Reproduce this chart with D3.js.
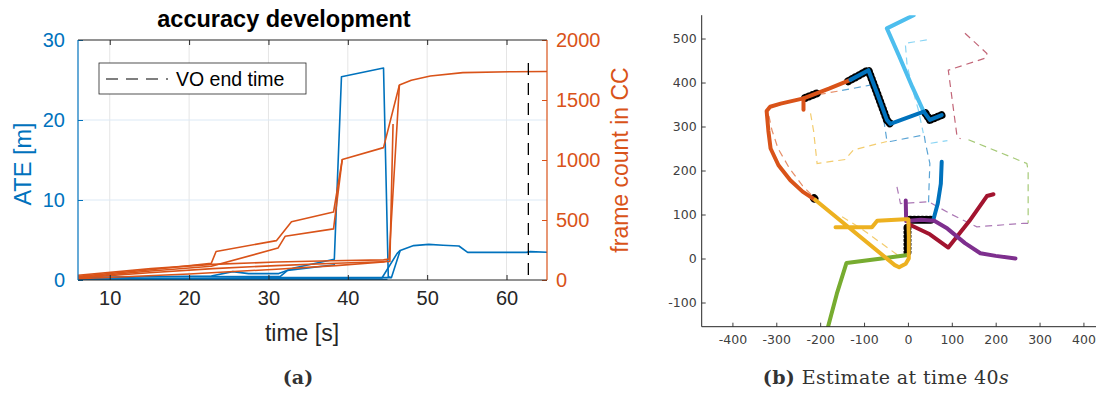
<!DOCTYPE html>
<html>
<head>
<meta charset="utf-8">
<script src="https://cdn.jsdelivr.net/npm/d3@7"></script>
<style>
body{margin:0;background:#fff;}
svg text{font-family:"Liberation Sans",Arial,Helvetica,sans-serif;}
</style>
</head>
<body>
<svg id="fig" width="1096" height="394"></svg>
<script>
// ---------- panel (a): accuracy development ----------
var timeTicks = [10,20,30,40,50,60];
var ateTicks = [0,10,20,30];
var frameTicks = [0,500,1000,1500,2000];
var voEndTime = 62.75;

// ATE [m] per run, [time, value]
var ateRun1 = [[6,0.35],[15,0.4],[22.8,0.5],[25.5,1.05],[27.5,0.8],[31.3,0.8],[33.2,1.5],[38.3,2.6],[39.2,25.4],[44.5,26.5],[45.1,0.4],[45.4,0.3]];
var ateRun2 = [[6,0.15],[14.4,0.4],[31.5,0.45],[32.4,1.2],[38.4,1.9]];
var ateRun3 = [[6,0.1],[20,0.2],[31,0.3],[44.6,0.3],[45.5,0.3],[46.6,3.7],[48.3,4.3],[50.2,4.45],[52,4.35],[54,4.25],[55.1,3.45],[62.5,3.45],[63,3.55],[65.5,3.45]];
var ateRun4 = [[6,0.05],[32,0.2],[44.3,0.25],[46.2,3.3],[46.6,3.7]];
var ateRun5 = [[6,0.02],[45,0.05]];

// frame count in CC per run, [time, value]
var frameRun1 = [[6,30],[15.2,85],[22.8,140],[23.4,238],[31,328],[32.9,485],[38.2,566],[39.3,1005],[44.5,1103],[46.5,1625],[48,1665],[50.4,1700],[54.5,1728],[60.8,1736],[65.5,1737]];
var frameRun2 = [[6,22],[15.2,75],[22.8,115],[31.2,266],[32.1,364],[38.2,426],[39.3,1005]];
var frameRun3 = [[6,40],[15.2,95],[23,130],[31,150],[38,160],[44.5,168],[45.2,175],[46.5,1625]];
var frameRun4 = [[6,18],[15,60],[23,95],[31,120],[38.5,140],[45.3,154],[45.7,1300]];
var frameRun5 = [[6,10],[20,50],[31,90],[38.5,120],[44.5,150],[45,160]];

// ---------- panel (b): estimate at time 40s ----------
var mapTicksX = [-400,-300,-200,-100,0,100,200,300,400];
var mapTicksY = [-100,0,100,200,300,400,500];

var estOrange = [[-131,406],[-180,386],[-238,364],[-290,352],[-314,345],[-322,335],[-318,290],[-313,250],[-295,212],[-268,178],[-240,152],[-211,133]];
var estOrangeStub = [[-238,364],[-238,338]];
var estBlueTop = [[-131,406],[-90,428],[-70,375],[-48,315],[-40,306],[36,334],[50,315],[77,326]];
var estLightBlue = [[13,553],[-48,523],[-20,460],[10,390],[36,334]];
var estYellow = [[-165,71],[-82,71],[-70,86],[-6,89],[1,89],[2,50],[2,0],[-5,-12],[-20,-20],[-30,-15],[-211,133]];
var estGreen = [[-186,-170],[-162,-80],[-140,-10],[-60,0],[0,8]];
var estPurple = [[-5,132],[-4,85],[30,88],[60,86],[90,68],[130,35],[165,12],[200,6],[245,0]];
var estRed = [[2,78],[50,55],[92,25],[140,85],[180,142],[195,146]];
var estBlueLow = [[77,220],[75,170],[68,125],[58,88]];

var overlaySegs = [
  [[-136,403],[-90,428],[-70,375],[-48,315],[-40,306]],
  [[40,330],[50,315],[77,326]],
  [[-234,365],[-208,375]],
  [[-214,137],[-208,131]],
  [[5,88],[55,88]],
  [[-1,70],[-1,15]]
];

var gtOrange = [[-160,90],[-200,125],[-240,165],[-270,205],[-296,250],[-310,292],[-318,330],[-318,345]];
var gtOrangeTop = [[-230,368],[-150,382]];
var gtBlue = [[-150,382],[-86,394]];
var gtBlue2 = [[-55,315],[-48,268],[-40,266],[37,281],[40,262],[50,216],[48,160],[47,125]];
var gtLightBlue = [[43,497],[-6,489],[-2,440],[12,380],[24,337],[35,285]];
var gtLightBlue2 = [[52,262],[90,268]];
var gtYellow = [[-222,330],[-215,290],[-207,216],[-143,225],[-124,247],[-48,266]];
var gtYellow2 = [[-150,95],[-108,69],[-18,4]];
var gtRed = [[130,512],[180,466],[178,456],[92,428],[112,277],[120,272]];
var gtGreen = [[138,270],[271,216],[274,200],[274,80]];
var gtPurple = [[-25,163],[-17,125],[47,129],[100,100],[157,72],[263,80],[274,80]];

var svg = d3.select("#fig");
var ink = "#262626", blue = "#0072BD", orange = "#D95319";
var defs = svg.append("defs");
var plain = function(d){return String(d)};

// ================= panel (a) =================
var ml = 78, mr = 547, mt = 40, mb = 280;
var x = d3.scaleLinear().domain([6, 65.1]).range([ml, mr]);
var yAte = d3.scaleLinear().domain([0, 30]).range([mb, mt]);
var yFrame = d3.scaleLinear().domain([0, 2000]).range([mb, mt]);

defs.append("clipPath").attr("id","clipA").append("rect")
  .attr("x",ml).attr("y",mt).attr("width",mr-ml).attr("height",mb-mt);

var gA = svg.append("g");

//grid
gA.selectAll(".vgrid").data(timeTicks).enter().append("line")
  .attr("x1",function(d){return x(d)}).attr("x2",function(d){return x(d)})
  .attr("y1",mt).attr("y2",mb).style("stroke","#e5e5e5").style("stroke-width",1);
gA.selectAll(".hgrid").data([10,20]).enter().append("line")
  .attr("x1",ml).attr("x2",mr)
  .attr("y1",function(d){return yAte(d)}).attr("y2",function(d){return yAte(d)})
  .style("stroke","#dce9f5").style("stroke-width",1);

var lineAte = d3.line().x(function(d){return x(d[0])}).y(function(d){return yAte(d[1])});
var lineFrame = d3.line().x(function(d){return x(d[0])}).y(function(d){return yFrame(d[1])});

var plotA = gA.append("g").attr("clip-path","url(#clipA)");
plotA.selectAll(".ate").data([ateRun5,ateRun4,ateRun2,ateRun1,ateRun3]).enter().append("path")
  .attr("d",lineAte).style("fill","none").style("stroke",blue).style("stroke-width",1.6)
  .style("stroke-linejoin","round");
plotA.selectAll(".frame").data([frameRun5,frameRun4,frameRun3,frameRun2,frameRun1]).enter().append("path")
  .attr("d",lineFrame).style("fill","none").style("stroke",orange).style("stroke-width",1.6)
  .style("stroke-linejoin","round");

//VO end time
plotA.append("line")
  .attr("x1",x(voEndTime)).attr("x2",x(voEndTime))
  .attr("y1",63).attr("y2",mb)
  .style("stroke","#000").style("stroke-width",1.3).style("stroke-dasharray","12,8");

function styleAxis(g, color, size) {
  g.select(".domain").remove();
  g.selectAll(".tick line").style("stroke",color).style("stroke-width",1);
  g.selectAll(".tick text").style("fill",color).style("font-size",size+"px")
    .style("font-family","'Liberation Sans',Arial,sans-serif");
}

var xAxis = gA.append("g").attr("transform","translate(0,"+mb+")")
  .call(d3.axisBottom(x).tickValues(timeTicks).tickSize(-5).tickPadding(11).tickFormat(plain));
styleAxis(xAxis, ink, 20);
var xAxisTop = gA.append("g").attr("transform","translate(0,"+mt+")")
  .call(d3.axisTop(x).tickValues(timeTicks).tickSize(-5).tickFormat(""));
styleAxis(xAxisTop, ink, 20);
var yAxisL = gA.append("g").attr("transform","translate("+ml+",0)")
  .call(d3.axisLeft(yAte).tickValues(ateTicks).tickSize(-5).tickPadding(13).tickFormat(plain));
styleAxis(yAxisL, blue, 20);
var yAxisR = gA.append("g").attr("transform","translate("+mr+",0)")
  .call(d3.axisRight(yFrame).tickValues(frameTicks).tickSize(-5).tickPadding(9).tickFormat(plain));
styleAxis(yAxisR, orange, 20);

//frame
gA.append("line").attr("x1",ml).attr("x2",mr).attr("y1",mb).attr("y2",mb).style("stroke",ink).style("stroke-width",1.2);
gA.append("line").attr("x1",ml).attr("x2",mr).attr("y1",mt).attr("y2",mt).style("stroke",ink).style("stroke-width",1.2);
gA.append("line").attr("x1",ml).attr("x2",ml).attr("y1",mt).attr("y2",mb).style("stroke",blue).style("stroke-width",1.2);
gA.append("line").attr("x1",mr).attr("x2",mr).attr("y1",mt).attr("y2",mb).style("stroke",orange).style("stroke-width",1.2);

//labels
gA.append("text").text("accuracy development")
  .attr("x",284).attr("y",27).attr("text-anchor","middle")
  .style("font-size","23.5px").style("font-weight","bold").style("fill","#000");
gA.append("text").text("time [s]")
  .attr("x",302).attr("y",341).attr("text-anchor","middle")
  .style("font-size","23px").style("fill",ink);
gA.append("text").text("ATE [m]")
  .attr("transform","translate(31,164) rotate(-90)").attr("text-anchor","middle")
  .style("font-size","23.5px").style("fill",blue);
gA.append("text").text("frame count in CC")
  .attr("transform","translate(628,160) rotate(-90)").attr("text-anchor","middle")
  .style("font-size","23px").style("fill",orange);

//legend
var leg = gA.append("g");
leg.append("rect").attr("x",99).attr("y",63).attr("width",207).attr("height",31)
  .style("fill","#fff").style("stroke",ink).style("stroke-width",0.8);
leg.append("line").attr("x1",106).attr("x2",168).attr("y1",79).attr("y2",79)
  .style("stroke","#000").style("stroke-width",1.2).style("stroke-dasharray","12,8");
leg.append("text").text("VO end time").attr("x",176).attr("y",86)
  .style("font-size","19.5px").style("fill","#000");

// ================= panel (b) =================
var bl = 701.7, br = 1096.6, bt = 15.2, bb = 326.7;
var px = d3.scaleLinear().domain([-470, 430]).range([bl, br]);
var py = d3.scaleLinear().domain([-155, 553]).range([bb, bt]);

defs.append("clipPath").attr("id","clipB").append("rect")
  .attr("x",bl).attr("y",bt).attr("width",br-bl).attr("height",bb-bt);

var gB = svg.append("g");
var plotB = gB.append("g").attr("clip-path","url(#clipB)");
var lineMap = d3.line().x(function(d){return px(d[0])}).y(function(d){return py(d[1])});

//ground truth, dashed
var dashed = [
  [gtOrange,"#D95319"],[gtOrangeTop,"#D95319"],[gtBlue,"#0072BD"],[gtBlue2,"#0072BD"],
  [gtLightBlue,"#4DBEEE"],[gtLightBlue2,"#4DBEEE"],[gtYellow,"#EDB120"],[gtYellow2,"#EDB120"],
  [gtRed,"#A2142F"],[gtGreen,"#77AC30"],[gtPurple,"#7E2F8E"]
];
plotB.selectAll(".gt").data(dashed).enter().append("path")
  .attr("d",function(d){return lineMap(d[0])})
  .style("fill","none").style("stroke",function(d){return d[1]})
  .style("stroke-width",1.2).style("stroke-opacity",0.65).style("stroke-dasharray","7,5");

//black overlays underneath
plotB.selectAll(".ov").data(overlaySegs).enter().append("path")
  .attr("d",lineMap).style("fill","none").style("stroke","#000")
  .style("stroke-width",8).style("stroke-linecap","round").style("stroke-linejoin","round")
  .style("stroke-dasharray","0.5,3.5");

//estimates
var solid = [
  [estGreen,"#77AC30"],[estLightBlue,"#4DBEEE"],[estOrange,"#D95319"],[estOrangeStub,"#D95319"],
  [estBlueTop,"#0072BD"],[estBlueLow,"#0072BD"],[estRed,"#A2142F"],[estPurple,"#7E2F8E"],
  [estYellow,"#EDB120"]
];
plotB.selectAll(".est").data(solid).enter().append("path")
  .attr("d",function(d){return lineMap(d[0])})
  .style("fill","none").style("stroke",function(d){return d[1]})
  .style("stroke-width",4).style("stroke-linecap","round").style("stroke-linejoin","round");

var mapInk = "#404040";
var bxAxis = gB.append("g").attr("transform","translate(0,"+bb+")")
  .call(d3.axisBottom(px).tickValues(mapTicksX).tickSize(-4).tickPadding(8).tickFormat(plain));
styleAxis(bxAxis, mapInk, 12.5);
var byAxis = gB.append("g").attr("transform","translate("+bl+",0)")
  .call(d3.axisLeft(py).tickValues(mapTicksY).tickSize(-4).tickPadding(5).tickFormat(plain));
styleAxis(byAxis, mapInk, 12.5);
gB.selectAll(".tick text").style("font-family","'DejaVu Sans',sans-serif");
gB.append("line").attr("x1",bl).attr("x2",br).attr("y1",bb).attr("y2",bb).style("stroke",ink).style("stroke-width",1);
gB.append("line").attr("x1",bl).attr("x2",bl).attr("y1",bt).attr("y2",bb).style("stroke",ink).style("stroke-width",1);

// ---------- captions ----------
var capFont = "'DejaVu Serif','Liberation Serif',serif";
svg.append("text").text("(a)").attr("x",298).attr("y",384).attr("text-anchor","middle")
  .style("font-family",capFont).style("font-weight","bold").style("font-size","19px").style("fill","#333");
var capB = svg.append("text").attr("x",886).attr("y",384).attr("text-anchor","middle")
  .style("font-family",capFont).style("font-size","19px").style("letter-spacing","0.4px").style("fill","#333");
capB.append("tspan").text("(b)").style("font-weight","bold");
capB.append("tspan").text(" Estimate at time 40");
capB.append("tspan").text("s").style("font-style","italic");
</script>
</body>
</html>
